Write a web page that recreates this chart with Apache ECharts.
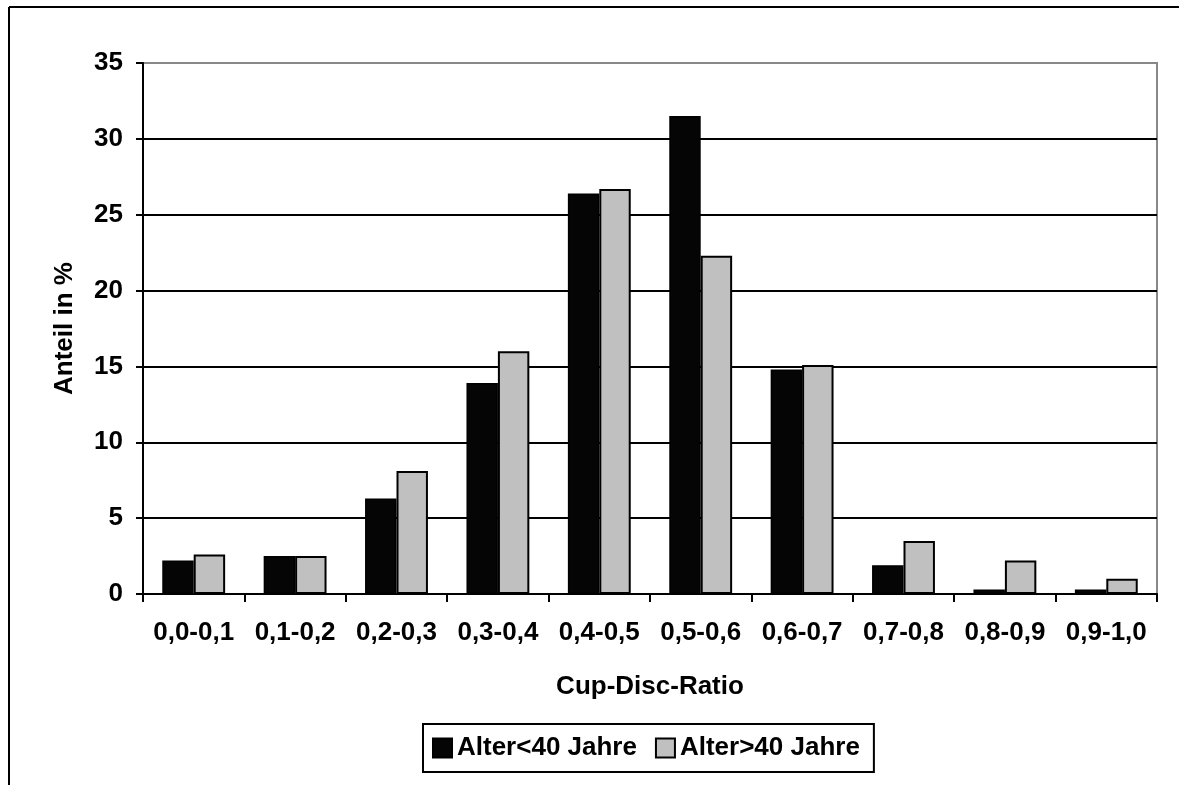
<!DOCTYPE html>
<html>
<head>
<meta charset="utf-8">
<script src="https://cdn.jsdelivr.net/npm/echarts@6/dist/echarts.min.js"></script>
<style>
  html, body { margin: 0; padding: 0; background: #fff; }
  #chart { width: 1179px; height: 785px; }
</style>
</head>
<body>
<div id="chart"></div>
<script>
// Cup-Disc-Ratio classes
const categories = ['0,0-0,1', '0,1-0,2', '0,2-0,3', '0,3-0,4', '0,4-0,5',
                    '0,5-0,6', '0,6-0,7', '0,7-0,8', '0,8-0,9', '0,9-1,0'];
// share in percent per age group
const under40 = [2.2, 2.5, 6.3, 13.9, 26.4, 31.5, 14.8, 1.9, 0.3, 0.3];
const over40  = [2.6, 2.5, 8.1, 16.0, 26.7, 22.3, 15.1, 3.5, 2.2, 1.0];
const seriesNames = ['Alter<40 Jahre', 'Alter>40 Jahre'];
const yTicks = { min: 0, max: 35, interval: 5 };

const FONT = '"Liberation Sans", Arial, sans-serif';
const FS = 26;
const chart = echarts.init(document.getElementById('chart'), null, { renderer: 'canvas' });

chart.setOption({
  animation: false,
  backgroundColor: '#fff',
  textStyle: { fontFamily: FONT, fontWeight: 'bold', color: '#000' },
  grid: {
    left: 143, right: 22, top: 63, bottom: 191,
    show: true, borderColor: '#888', borderWidth: 2, backgroundColor: 'transparent'
  },
  legend: {
    data: seriesNames,
    left: 423, top: 724,
    padding: [11, 14, 11, 9],
    borderColor: '#000', borderWidth: 2,
    itemWidth: 19, itemHeight: 19, itemGap: 18,
    icon: 'rect',
    textStyle: { fontFamily: FONT, fontWeight: 'bold', fontSize: FS, color: '#000' }
  },
  xAxis: {
    type: 'category',
    data: categories,
    name: 'Cup-Disc-Ratio',
    nameLocation: 'middle',
    nameGap: 80,
    nameTextStyle: { fontFamily: FONT, fontWeight: 'bold', fontSize: FS, color: '#000', verticalAlign: 'top' },
    axisLine: { lineStyle: { color: '#000', width: 2 } },
    axisTick: { show: true, inside: false, length: 8, alignWithLabel: false, lineStyle: { color: '#000', width: 2 } },
    axisLabel: { fontFamily: FONT, fontWeight: 'bold', fontSize: FS, color: '#000', margin: 26, interval: 0 },
    splitLine: { show: false }
  },
  yAxis: {
    type: 'value',
    min: yTicks.min, max: yTicks.max, interval: yTicks.interval,
    name: 'Anteil in %',
    nameLocation: 'middle',
    nameGap: 65,
    nameRotate: 90,
    nameTextStyle: { fontFamily: FONT, fontWeight: 'bold', fontSize: FS, color: '#000' },
    axisLine: { show: true, lineStyle: { color: '#000', width: 2 } },
    axisTick: { show: true, inside: false, length: 7, lineStyle: { color: '#000', width: 2 } },
    axisLabel: { fontFamily: FONT, fontWeight: 'bold', fontSize: FS, color: '#000', margin: 20 },
    splitLine: {
      show: true,
      lineStyle: { color: ['#000', '#000', '#000', '#000', '#000', '#000', '#000', '#888'], width: 2 }
    }
  },
  series: [
    {
      name: seriesNames[0], type: 'bar', data: under40,
      barGap: '0%', barCategoryGap: '38%',
      itemStyle: { color: '#050505', borderColor: '#000', borderWidth: 1.5 }
    },
    {
      name: seriesNames[1], type: 'bar', data: over40,
      barGap: '0%', barCategoryGap: '38%',
      itemStyle: { color: '#c0c0c0', borderColor: '#000', borderWidth: 2 }
    }
  ],
  graphic: [
    { type: 'line', shape: { x1: 9, y1: 7, x2: 1179, y2: 7 }, style: { stroke: '#000', lineWidth: 2 } },
    { type: 'line', shape: { x1: 9, y1: 7, x2: 9, y2: 785 }, style: { stroke: '#000', lineWidth: 2 } }
  ]
});
</script>
</body>
</html>
